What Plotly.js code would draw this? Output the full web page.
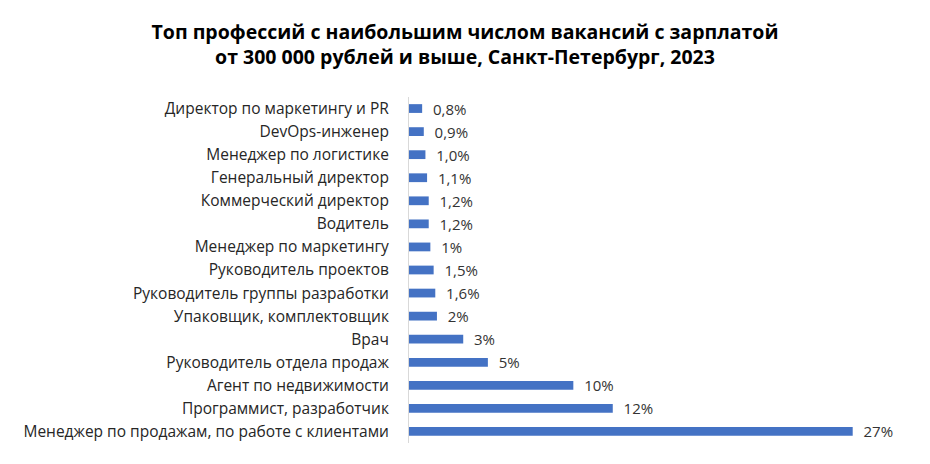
<!DOCTYPE html>
<html><head><meta charset="utf-8">
<script src="https://cdn.plot.ly/plotly-3.0.1.min.js"></script>
<style>html,body{margin:0;padding:0;background:#fff}#chart{width:930px;height:464px}</style>
</head><body><div id="chart"></div>
<script>
const categories = [
  "Менеджер по продажам, по работе с клиентами",
  "Программист, разработчик",
  "Агент по недвижимости",
  "Руководитель отдела продаж",
  "Врач",
  "Упаковщик, комплектовщик",
  "Руководитель группы разработки",
  "Руководитель проектов",
  "Менеджер по маркетингу",
  "Водитель",
  "Коммерческий директор",
  "Генеральный директор",
  "Менеджер по логистике",
  "DevOps-инженер",
  "Директор по маркетингу и PR"
];
const values = [27, 12.4, 10, 4.8, 3.3, 1.7, 1.6, 1.5, 1.3, 1.2, 1.2, 1.1, 1.0, 0.9, 0.8];
const labels = ["27%", "12%", "10%", "5%", "3%", "2%", "1,6%", "1,5%", "1%", "1,2%", "1,2%", "1,1%", "1,0%", "0,9%", "0,8%"];

const font = "Open Sans, Liberation Sans, sans-serif";
Plotly.newPlot("chart", [{
  type: "bar",
  orientation: "h",
  y: categories,
  x: values,
  text: labels,
  texttemplate: "\u00a0\u00a0%{text}",
  textposition: "outside",
  constraintext: "none",
  cliponaxis: false,
  textfont: {family: font, size: 15, color: "#333"},
  marker: {color: "#4472C4"},
  hoverinfo: "none"
}], {
  width: 930, height: 464,
  margin: {l: 409, r: 28, t: 97, b: 21},
  paper_bgcolor: "#fff", plot_bgcolor: "#fff",
  bargap: 0.62,
  showlegend: false,
  title: {
    text: "<b>Топ профессий с наибольшим числом вакансий с зарплатой<br>от 300 000 рублей и выше, Санкт-Петербург, 2023</b>",
    font: {family: font, size: 19.5, color: "#000"},
    x: 0.5, xanchor: "center", yref: "container", y: 0.917, yanchor: "middle"
  },
  xaxis: {range: [0, 30], showgrid: false, zeroline: false, showticklabels: false, showline: false, fixedrange: true},
  yaxis: {
    type: "category",
    showline: true, linecolor: "#d9d9d9", linewidth: 1,
    ticks: "outside", ticklen: 16, tickcolor: "rgba(0,0,0,0)",
    tickfont: {family: font, size: 15.5, color: "#262626"},
    showgrid: false, fixedrange: true
  }
}, {displayModeBar: false, staticPlot: true});
</script></body></html>
